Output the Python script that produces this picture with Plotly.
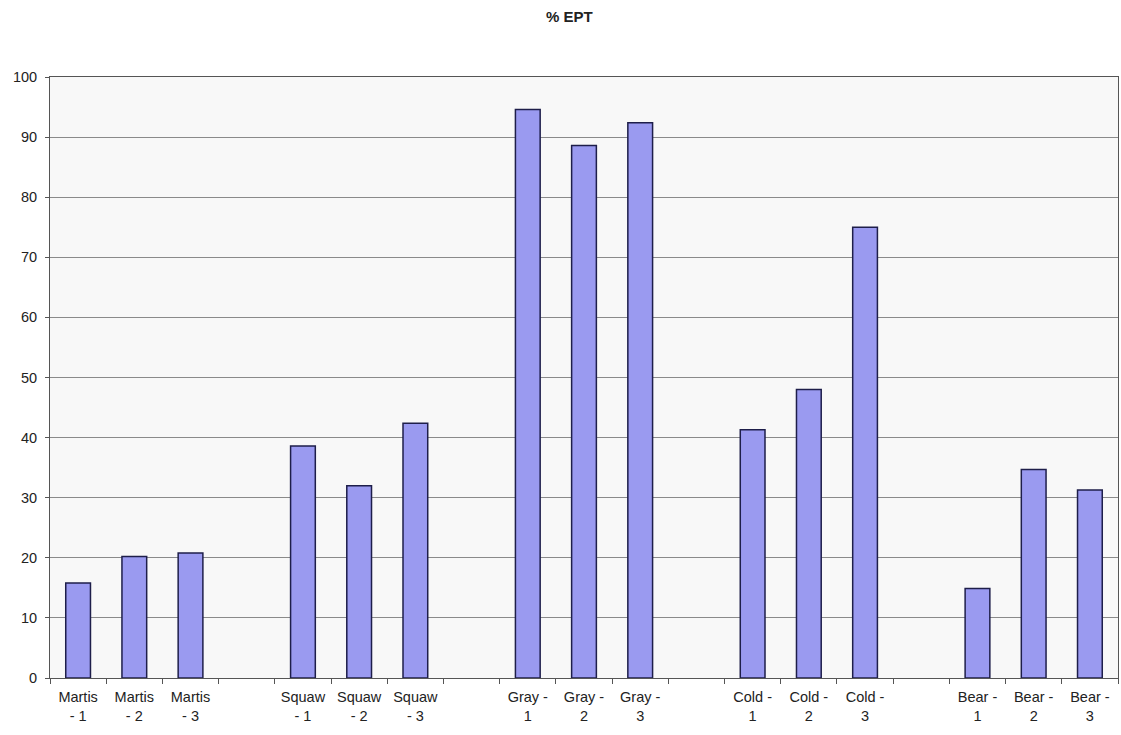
import plotly.graph_objects as go

categories = ["Martis - 1", "Martis - 2", "Martis - 3", "",
              "Squaw - 1", "Squaw - 2", "Squaw - 3", " ",
              "Gray - 1", "Gray - 2", "Gray - 3", "  ",
              "Cold - 1", "Cold - 2", "Cold - 3", "   ",
              "Bear - 1", "Bear - 2", "Bear - 3"]
values = [15.8, 20.2, 20.8, None,
          38.6, 32.0, 42.4, None,
          94.6, 88.6, 92.4, None,
          41.3, 48.0, 75.0, None,
          14.9, 34.7, 31.3]
tick_labels = ["Martis<br>- 1", "Martis<br>- 2", "Martis<br>- 3", "",
               "Squaw<br>- 1", "Squaw<br>- 2", "Squaw<br>- 3", "",
               "Gray -<br>1", "Gray -<br>2", "Gray -<br>3", "",
               "Cold -<br>1", "Cold -<br>2", "Cold -<br>3", "",
               "Bear -<br>1", "Bear -<br>2", "Bear -<br>3"]

fig = go.Figure(go.Bar(
    x=categories, y=values,
    marker=dict(color="#9a9af0", line=dict(color="#1e1e4a", width=1.5)),
))

fig.update_layout(
    width=1121, height=735,
    margin=dict(l=50, r=3, t=77, b=57),
    paper_bgcolor="white", plot_bgcolor="#f8f8f8",
    bargap=0.56,
    showlegend=False,
    font=dict(family="Liberation Sans, Arial", size=14, color="#222"),
    title=dict(text="<b>% EPT</b>", x=0.508, xanchor="center", y=0.985, yanchor="top",
               font=dict(size=15, color="#222")),
)
fig.update_xaxes(
    type="category", tickmode="array", tickvals=categories, ticktext=tick_labels,
    tickson="boundaries", ticks="outside", ticklen=5, tickcolor="#555",
    ticklabelstandoff=6,
    showline=True, linecolor="#555", linewidth=1, mirror=True,
    showgrid=False, tickfont=dict(size=14.5),
)
fig.update_yaxes(
    range=[0, 100], dtick=10, ticks="outside", ticklen=4, tickcolor="#555",
    ticklabelstandoff=5,
    showline=True, linecolor="#555", linewidth=1, mirror=True,
    showgrid=True, gridcolor="#8a8a8a", gridwidth=1, zeroline=False,
    tickfont=dict(size=14.5),
)

fig.write_html("out.html")
